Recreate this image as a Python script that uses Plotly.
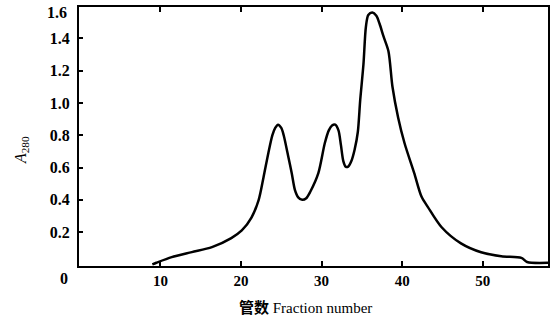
import plotly.graph_objects as go

fraction = [9.0, 9.5, 11.4, 13.9, 16.4, 18.8, 20.1, 21.3, 22.2, 22.8, 23.4, 23.9, 24.25,
            24.6, 25.0, 25.3, 25.9, 26.3, 26.7, 27.1, 27.6, 28.1, 28.6, 29.6, 30.4,
            30.9, 31.3, 31.7, 32.1, 32.4, 32.7, 33.0, 33.3, 33.7, 34.1, 34.5, 34.8,
            35.2, 35.5, 35.8, 36.3, 36.8, 37.2, 37.7, 38.3, 38.8, 39.5, 40.3, 41.5,
            42.4, 43.2, 44.9, 47.3, 49.8, 52.3, 54.8, 55.5, 58.1]
a280 = [0.0, 0.01, 0.045, 0.076, 0.107, 0.163, 0.21, 0.29, 0.40, 0.54, 0.69, 0.80, 0.845,
        0.865, 0.845, 0.80, 0.66, 0.565, 0.46, 0.415, 0.40, 0.41, 0.45, 0.565, 0.75,
        0.83, 0.86, 0.865, 0.83, 0.74, 0.64, 0.605, 0.605, 0.64, 0.71, 0.82, 1.02,
        1.24, 1.47, 1.545, 1.56, 1.54, 1.49, 1.41, 1.32, 1.10, 0.91, 0.75, 0.565,
        0.42, 0.355, 0.23, 0.13, 0.075, 0.05, 0.04, 0.015, 0.01]

x_ticks = [10, 20, 30, 40, 50]
y_ticks = [0.2, 0.4, 0.6, 0.8, 1.0, 1.2, 1.4]
y_ticktext = ["0.2", "0.4", "0.6", "0.8", "1.0", "1.2", "1.4"]

font_serif = "Liberation Serif"

# plot area in page pixels: x 79..548, y 7..266
PL, PR, PT, PB = 79, 548, 7, 266


def px(x):
    return (x - PL) / (PR - PL)


def py(y):
    return (PB - y) / (PB - PT)


fig = go.Figure()
fig.add_trace(go.Scatter(x=fraction, y=a280, mode="lines",
                         line=dict(color="black", width=2.5, shape="spline", smoothing=0.8),
                         hoverinfo="skip"))

fig.update_layout(
    width=557, height=326,
    margin=dict(l=PL, r=557 - PR, t=PT, b=326 - PB, autoexpand=False),
    paper_bgcolor="white", plot_bgcolor="white",
    showlegend=False,
    xaxis=dict(range=[-0.1, 58.1], tickvals=x_ticks, ticks="inside", ticklen=5,
               tickwidth=1.5, tickcolor="black", showline=True, linecolor="black",
               linewidth=2, mirror="allticks", showgrid=False, zeroline=False,
               tickfont=dict(family=font_serif, size=15, color="black", weight="bold")),
    yaxis=dict(range=[-0.01, 1.594], tickvals=y_ticks, ticktext=y_ticktext,
               ticks="inside", ticklen=4, tickwidth=1.5, tickcolor="black",
               showline=True, linecolor="black", linewidth=2, mirror=True,
               showgrid=False, zeroline=False, ticklabelstandoff=4,
               tickfont=dict(family=font_serif, size=16, color="black", weight="bold")),
)

fig.add_annotation(text="<b>0</b>", xref="paper", yref="paper", x=px(70), y=py(278),
                   xanchor="right", yanchor="middle", showarrow=False,
                   font=dict(family=font_serif, size=16, color="black"))
fig.add_annotation(text="<b>1.6</b>", xref="paper", yref="paper", x=px(69), y=py(13),
                   xanchor="right", yanchor="middle", showarrow=False,
                   font=dict(family=font_serif, size=16, color="black"))
fig.add_annotation(text="<i>A</i><sub>280</sub>", xref="paper", yref="paper",
                   x=px(21), y=py(150), xanchor="center", yanchor="middle", textangle=-90,
                   showarrow=False, font=dict(family=font_serif, size=16, color="black"))
fig.add_annotation(text="<span style='font-family:Noto Sans CJK SC;font-weight:bold'>管数</span> Fraction number",
                   xref="paper", yref="paper",
                   x=px(305), y=py(306), xanchor="center", yanchor="middle", showarrow=False,
                   font=dict(family=font_serif, size=15, color="black"))

fig.write_html("out.html", config={"displayModeBar": False},
               post_script="document.body.style.margin='0';")
